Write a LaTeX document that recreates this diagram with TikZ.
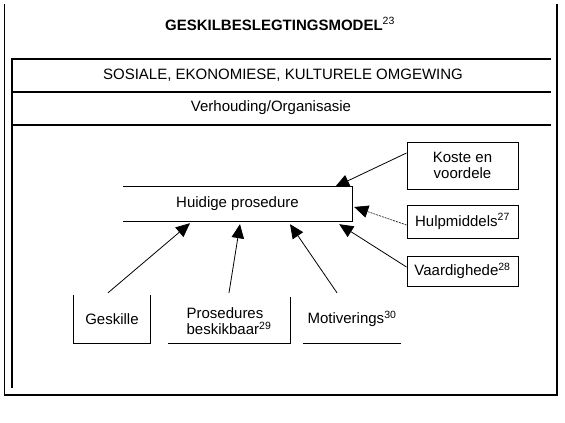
\documentclass[tikz,border=0pt]{standalone}
\usepackage{fontspec}
\setmainfont{Liberation Sans}
\usetikzlibrary{arrows.meta, positioning}

\begin{document}
\begin{tikzpicture}[x=1pt, y=-1pt,
  txt/.style={font=\fontsize{15}{16}\selectfont},
  box/.style={rectangle, draw, line width=1pt,
    minimum width=111pt, align=center, inner sep=0pt, txt},
  cell/.style={rectangle, inner sep=0pt,
    minimum height=48pt, align=left, txt},
  rule/.style={line width=1.1pt},
  edge/.style={line width=1pt},
  arrow/.style={-{Triangle[length=14pt, width=12.5pt]}, line width=0.8pt}
]
\useasboundingbox (0,0) rectangle (565,423);

% Outer frame (open at the top)
\draw[rule] (4.5,4) -- (4.5,395) -- (557,395) -- (557,4);

% Inner frame with the two bands
\draw[rule] (12,388) -- (12,59) -- (551,59);
\draw[rule] (12,92) -- (551,92);
\draw[rule] (12,125) -- (551,125);

% Headings
\node[font=\fontsize{15}{16}\selectfont\bfseries] (title) at (280,24)
  {GESKILBESLEGTINGSMODEL\textsuperscript{\normalfont 23}};
\node[txt] (env) at (283,75) {SOSIALE, EKONOMIESE, KULTURELE OMGEWING};
\node[txt] (org) at (271,108) {Verhouding/Organisasie};

% Central box (no left edge)
\node[cell, minimum width=229pt, minimum height=34pt, align=center]
  (hp) at (237.5,204) {Huidige prosedure};
\draw[edge] (hp.north west) -- (hp.north east)
  -- (hp.south east) -- (hp.south west);

% Right column
\node[box, minimum height=47pt] (kv) at (462.5,165.5) {Koste en\\voordele};
\node[box, minimum height=33pt] (hm) at (462.5,221.5)
  {Hulpmiddels\textsuperscript{27}};
\node[box, minimum height=30pt] (vh) at (462.5,271)
  {Vaardighede\textsuperscript{28}};

% Bottom row (open boxes)
\node[cell, minimum width=76pt, align=center] (gs) at (112,319) {Geskille};
\draw[edge] (gs.north west) -- (gs.south west)
  -- (gs.south east) -- (gs.north east);
\node[cell, minimum width=122pt] (pb) at (229,321)
  {Prosedures\\beskikbaar\textsuperscript{29}};
\draw[edge] ([yshift=2pt]pb.south west) -- ([yshift=2pt]pb.south east)
  -- (pb.north east);
\node[cell, minimum width=98pt, align=center] (mv) at (352,319)
  {Motiverings\textsuperscript{30}};
\draw[edge] (mv.south west) -- (mv.south east);

% Arrows into the central box
\draw[arrow] ([xshift=-4pt, yshift=2pt]gs.north)
  -- ([xshift=-47.5pt, yshift=-2pt]hp.south);
\draw[arrow] ([xshift=0pt, yshift=4pt]pb.north)
  -- ([xshift=2.5pt, yshift=-3pt]hp.south);
\draw[arrow] ([xshift=-15pt, yshift=2pt]mv.north)
  -- ([xshift=52.5pt, yshift=-3pt]hp.south);
\draw[arrow] ([yshift=12.5pt]kv.west)
  -- ([xshift=-17pt]hp.north east);
\draw[arrow, dash pattern=on 2pt off 1pt, line width=0.6pt]
  ([yshift=-3.5pt]hm.west) -- ([xshift=2pt, yshift=-3pt]hp.east);
\draw[arrow] ([yshift=4pt]vh.west)
  -- ([xshift=-13pt, yshift=-3pt]hp.south east);
\end{tikzpicture}
\end{document}
